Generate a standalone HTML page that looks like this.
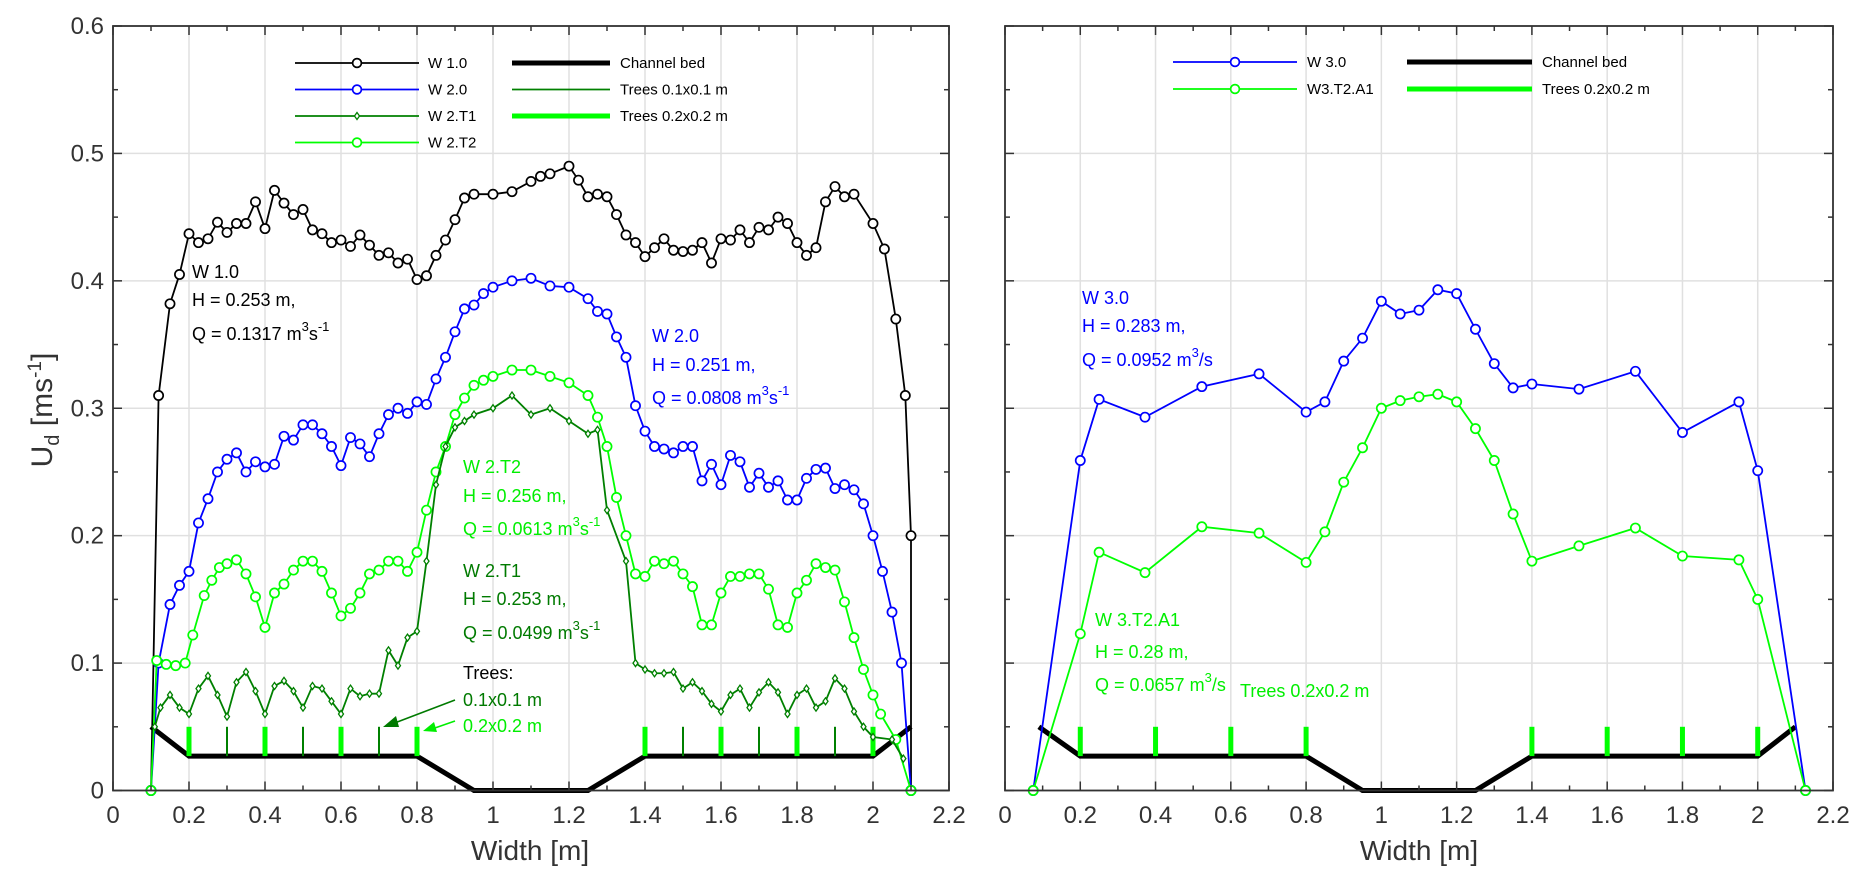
<!DOCTYPE html>
<html><head><meta charset="utf-8"><style>
body{margin:0;background:#fff}
svg{display:block;font-family:"Liberation Sans",Arial,sans-serif}
</style></head><body>
<svg id="chart" width="1870" height="886" viewBox="0 0 1870 886" xmlns="http://www.w3.org/2000/svg">
<g id="p1"></g>
<g id="p2"></g>
<text transform="translate(52,410) rotate(-90)" text-anchor="middle" font-size="30" fill="#333">U<tspan font-size="20" dy="7">d</tspan><tspan dy="-7"> [ms</tspan><tspan font-size="19" dy="-11">-1</tspan><tspan dy="11">]</tspan></text>
<text x="530" y="860" text-anchor="middle" font-size="28" fill="#333">Width  [m]</text>
<text x="1419" y="860" text-anchor="middle" font-size="28" fill="#333">Width  [m]</text>
</svg>
<script>
// ---- data: left panel ----
const w10x=[0.1,0.12,0.15,0.175,0.2,0.225,0.25,0.275,0.3,0.325,0.35,0.375,0.4,0.425,0.45,0.475,0.5,0.525,0.55,0.575,0.6,0.625,0.65,0.675,0.7,0.725,0.75,0.775,0.8,0.825,0.85,0.875,0.9,0.925,0.95,1.0,1.05,1.1,1.125,1.15,1.2,1.225,1.25,1.275,1.3,1.325,1.35,1.375,1.4,1.425,1.45,1.475,1.5,1.525,1.55,1.575,1.6,1.625,1.65,1.675,1.7,1.725,1.75,1.775,1.8,1.825,1.85,1.875,1.9,1.925,1.95,2.0,2.03,2.06,2.085,2.1,2.1];
const w10y=[0,0.31,0.382,0.405,0.437,0.43,0.433,0.446,0.438,0.445,0.445,0.462,0.441,0.471,0.461,0.452,0.456,0.44,0.437,0.43,0.432,0.427,0.436,0.428,0.42,0.422,0.414,0.417,0.401,0.404,0.42,0.432,0.448,0.465,0.468,0.468,0.47,0.478,0.482,0.484,0.49,0.479,0.466,0.468,0.466,0.452,0.436,0.43,0.419,0.426,0.433,0.424,0.423,0.424,0.43,0.414,0.433,0.432,0.44,0.43,0.442,0.44,0.45,0.445,0.43,0.42,0.426,0.462,0.474,0.466,0.468,0.445,0.425,0.37,0.31,0.2,0];
const w20x=[0.1,0.12,0.15,0.175,0.2,0.225,0.25,0.275,0.3,0.325,0.35,0.375,0.4,0.425,0.45,0.475,0.5,0.525,0.55,0.575,0.6,0.625,0.65,0.675,0.7,0.725,0.75,0.775,0.8,0.825,0.85,0.875,0.9,0.925,0.95,0.975,1.0,1.05,1.1,1.15,1.2,1.25,1.275,1.3,1.325,1.35,1.375,1.4,1.425,1.45,1.475,1.5,1.525,1.55,1.575,1.6,1.625,1.65,1.675,1.7,1.725,1.75,1.775,1.8,1.825,1.85,1.875,1.9,1.925,1.95,1.975,2.0,2.025,2.05,2.075,2.1];
const w20y=[0,0.1,0.146,0.161,0.172,0.21,0.229,0.25,0.26,0.265,0.25,0.258,0.254,0.256,0.278,0.275,0.287,0.287,0.28,0.27,0.255,0.277,0.272,0.262,0.28,0.295,0.3,0.296,0.305,0.303,0.323,0.34,0.36,0.378,0.381,0.39,0.395,0.4,0.402,0.396,0.395,0.386,0.376,0.374,0.356,0.34,0.302,0.282,0.27,0.268,0.265,0.27,0.27,0.243,0.256,0.24,0.263,0.258,0.238,0.249,0.238,0.243,0.228,0.228,0.245,0.252,0.253,0.237,0.24,0.236,0.225,0.2,0.172,0.14,0.1,0];
const wt2x=[0.1,0.115,0.14,0.165,0.19,0.21,0.24,0.26,0.28,0.3,0.325,0.35,0.375,0.4,0.425,0.45,0.475,0.5,0.525,0.55,0.575,0.6,0.625,0.65,0.675,0.7,0.725,0.75,0.775,0.8,0.825,0.85,0.875,0.9,0.925,0.95,0.975,1.0,1.05,1.1,1.15,1.2,1.25,1.275,1.3,1.325,1.35,1.375,1.4,1.425,1.45,1.475,1.5,1.525,1.55,1.575,1.6,1.625,1.65,1.675,1.7,1.725,1.75,1.775,1.8,1.825,1.85,1.875,1.9,1.925,1.95,1.975,2.0,2.02,2.06,2.1];
const wt2y=[0,0.102,0.099,0.098,0.1,0.122,0.153,0.165,0.175,0.178,0.181,0.17,0.152,0.128,0.155,0.162,0.173,0.18,0.18,0.172,0.155,0.137,0.143,0.155,0.17,0.173,0.18,0.18,0.172,0.187,0.22,0.25,0.27,0.295,0.308,0.318,0.322,0.325,0.33,0.33,0.325,0.32,0.31,0.293,0.27,0.23,0.2,0.17,0.168,0.18,0.178,0.18,0.17,0.16,0.13,0.13,0.155,0.168,0.168,0.17,0.17,0.158,0.13,0.128,0.155,0.165,0.178,0.175,0.173,0.148,0.12,0.095,0.075,0.06,0.04,0];
const wt1x=[0.11,0.125,0.15,0.175,0.2,0.225,0.25,0.275,0.3,0.325,0.35,0.375,0.4,0.425,0.45,0.475,0.5,0.525,0.55,0.575,0.6,0.625,0.65,0.675,0.7,0.725,0.75,0.775,0.8,0.825,0.85,0.875,0.9,0.925,0.95,1.0,1.05,1.1,1.15,1.2,1.25,1.275,1.3,1.35,1.375,1.4,1.425,1.45,1.475,1.5,1.525,1.55,1.575,1.6,1.625,1.65,1.675,1.7,1.725,1.75,1.775,1.8,1.825,1.85,1.875,1.9,1.925,1.95,1.975,2.0,2.05,2.08];
const wt1y=[0.05,0.065,0.075,0.065,0.06,0.08,0.09,0.075,0.058,0.085,0.093,0.078,0.06,0.082,0.086,0.078,0.065,0.082,0.08,0.07,0.06,0.08,0.074,0.076,0.076,0.11,0.098,0.12,0.125,0.18,0.24,0.27,0.285,0.29,0.295,0.3,0.31,0.295,0.3,0.29,0.28,0.283,0.22,0.18,0.1,0.095,0.092,0.092,0.093,0.08,0.085,0.078,0.068,0.062,0.075,0.08,0.065,0.077,0.085,0.077,0.06,0.075,0.08,0.065,0.07,0.088,0.08,0.062,0.05,0.042,0.04,0.025];
const bedX=[0.1,0.2,0.8,0.95,1.25,1.4,2.0,2.1];
const bedY=[0.05,0.027,0.027,0,0,0.027,0.027,0.05];
const bedRX=[0.09,0.2,0.8,0.95,1.25,1.4,2.0,2.1];
const treeSmallX=[0.3,0.5,0.7,1.5,1.7,1.9];
const treeLargeX=[0.2,0.4,0.6,0.8,1.4,1.6,1.8,2.0];
// ---- data: right panel ----
const w30x=[0.075,0.2,0.25,0.372,0.523,0.675,0.8,0.85,0.9,0.95,1.0,1.05,1.1,1.15,1.2,1.25,1.3,1.35,1.4,1.525,1.675,1.8,1.95,2.0,2.127];
const w30y=[0,0.259,0.307,0.293,0.317,0.327,0.297,0.305,0.337,0.355,0.384,0.374,0.377,0.393,0.39,0.362,0.335,0.316,0.319,0.315,0.329,0.281,0.305,0.251,0];
const w3ty=[0,0.123,0.187,0.171,0.207,0.202,0.179,0.203,0.242,0.269,0.3,0.306,0.309,0.311,0.305,0.284,0.259,0.217,0.18,0.192,0.206,0.184,0.181,0.15,0];
const xTicks=[0,0.2,0.4,0.6,0.8,1,1.2,1.4,1.6,1.8,2,2.2];
const xTickLabels=["0","0.2","0.4","0.6","0.8","1","1.2","1.4","1.6","1.8","2","2.2"];
const yTicks=[0,0.1,0.2,0.3,0.4,0.5,0.6];
const yTickLabels=["0","0.1","0.2","0.3","0.4","0.5","0.6"];

const NS="http://www.w3.org/2000/svg";
function mk(parent,tag,attrs){const e=document.createElementNS(NS,tag);for(const k in attrs)e.setAttribute(k,attrs[k]);parent.appendChild(e);return e;}
const Y0=790.5,Y1=26;
function makeAxes(g,x0,x1){
  const sx=v=>x0+(x1-x0)*v/2.2, sy=v=>Y0+(Y1-Y0)*v/0.6;
  xTicks.forEach(v=>{const l=mk(g,'line',{x1:sx(v),x2:sx(v),y1:Y0,y2:Y1,stroke:'#e0e0e0','stroke-width':1.5});
    });
  yTicks.forEach(v=>{const l=mk(g,'line',{x1:x0,x2:x1,y1:sy(v),y2:sy(v),stroke:'#e0e0e0','stroke-width':1.5});
    });
  return {sx,sy};
}
function frame(g,x0,x1,showY){
  const sx=v=>x0+(x1-x0)*v/2.2, sy=v=>Y0+(Y1-Y0)*v/0.6;
  for(let i=0;i<=22;i++){const v=i/10,L=i%2?5:9;
    mk(g,'line',{x1:sx(v),x2:sx(v),y1:Y0,y2:Y0-L,stroke:'#333','stroke-width':1.5});
    mk(g,'line',{x1:sx(v),x2:sx(v),y1:Y1,y2:Y1+L,stroke:'#333','stroke-width':1.5});}
  for(let i=0;i<=12;i++){const v=i/20,L=i%2?5:9;
    mk(g,'line',{x1:x0,x2:x0+L,y1:sy(v),y2:sy(v),stroke:'#333','stroke-width':1.5});
    mk(g,'line',{x1:x1,x2:x1-L,y1:sy(v),y2:sy(v),stroke:'#333','stroke-width':1.5});}
  const r=mk(g,'rect',{x:x0,y:Y1,width:x1-x0,height:Y0-Y1,fill:'none',stroke:'#333','stroke-width':1.8});
  
  xTicks.forEach((v,i)=>{const t=mk(g,'text',{x:sx(v),y:823,'text-anchor':'middle','font-size':24,fill:'#333'});t.textContent=xTickLabels[i];
    });
  if(showY)yTicks.forEach((v,i)=>{const t=mk(g,'text',{x:x0-9,y:sy(v)+8,'text-anchor':'end','font-size':24,fill:'#333'});t.textContent=yTickLabels[i];
    });
}
function series(g,sx,sy,xs,ys,color,marker,name,w){
  const s=mk(g,'g',{});
  
  
  mk(s,'polyline',{points:xs.map((x,i)=>sx(x)+','+sy(ys[i])).join(' '),fill:'none',stroke:color,'stroke-width':w||1.8});
  xs.forEach((x,i)=>{
    if(marker==='o')mk(s,'circle',{cx:sx(x),cy:sy(ys[i]),r:4.6,fill:'#fff',stroke:color,'stroke-width':1.7});
    else if(marker==='d'){const cx=sx(x),cy=sy(ys[i]);mk(s,'polygon',{points:`${cx},${cy-3.5} ${cx+2.5},${cy} ${cx},${cy+3.5} ${cx-2.5},${cy}`,fill:'#fff',stroke:color,'stroke-width':1.3});}
  });
}
function bed(g,sx,sy,xs){
  const p=mk(g,'polyline',{points:xs.map((x,i)=>sx(x)+','+sy(bedY[i])).join(' '),fill:'none',stroke:'#000','stroke-width':5});
  
}
function trees(g,sx,sy,xs,color,w,name){
  xs.forEach(x=>{const l=mk(g,'line',{x1:sx(x),x2:sx(x),y1:sy(0.027),y2:sy(0.05),stroke:color,'stroke-width':w});
    });
}
function txt(g,x,y,color,html,name,size){
  const t=mk(g,'text',{x:x,y:y,fill:color,'font-size':size||18});t.innerHTML=html;
  return t;
}
function legLine(g,x1,x2,y,color,w,marker){
  mk(g,'line',{x1:x1,x2:x2,y1:y,y2:y,stroke:color,'stroke-width':w});
  const m=(x1+x2)/2;
  if(marker==='o')mk(g,'circle',{cx:m,cy:y,r:4.4,fill:'#fff',stroke:color,'stroke-width':1.7});
  if(marker==='d')mk(g,'polygon',{points:`${m},${y-3.5} ${m+2.5},${y} ${m},${y+3.5} ${m-2.5},${y}`,fill:'#fff',stroke:color,'stroke-width':1.3});
}
// ---- left panel ----
const g1=document.getElementById('p1');
const A=makeAxes(g1,113,949);
bed(g1,A.sx,A.sy,bedX);
trees(g1,A.sx,A.sy,treeSmallX,'#008000',2,'tree-0.1');
trees(g1,A.sx,A.sy,treeLargeX,'#00ff00',5,'tree-0.2');
series(g1,A.sx,A.sy,w10x,w10y,'#000','o','series-w1-0');
series(g1,A.sx,A.sy,w20x,w20y,'#0000ff','o','series-w2-0');
series(g1,A.sx,A.sy,wt2x,wt2y,'#00ff00','o','series-w2-t2');
series(g1,A.sx,A.sy,wt1x,wt1y,'#008000','d','series-w2-t1');
frame(g1,113,949,true);
const sup=s=>`<tspan font-size="13" dy="-9">${s}</tspan>`;
txt(g1,192,278,'#000','W 1.0','annot-w1-name');
txt(g1,192,306,'#000','H = 0.253 m,','annot-w1-h');
txt(g1,192,340,'#000','Q = 0.1317 m'+sup('3')+'<tspan dy="9">s</tspan>'+sup('-1'),'annot-w1-q');
txt(g1,652,342,'#0000ff','W 2.0','annot-w2-name');
txt(g1,652,371,'#0000ff','H = 0.251 m,','annot-w2-h');
txt(g1,652,404,'#0000ff','Q = 0.0808 m'+sup('3')+'<tspan dy="9">s</tspan>'+sup('-1'),'annot-w2-q');
txt(g1,463,473,'#00ee00','W 2.T2','annot-wt2-name');
txt(g1,463,502,'#00ee00','H = 0.256 m,','annot-wt2-h');
txt(g1,463,535,'#00ee00','Q = 0.0613 m'+sup('3')+'<tspan dy="9">s</tspan>'+sup('-1'),'annot-wt2-q');
txt(g1,463,577,'#007a00','W 2.T1','annot-wt1-name');
txt(g1,463,605,'#007a00','H = 0.253 m,','annot-wt1-h');
txt(g1,463,639,'#007a00','Q = 0.0499 m'+sup('3')+'<tspan dy="9">s</tspan>'+sup('-1'),'annot-wt1-q');
txt(g1,463,679,'#000','Trees:','annot-trees');
txt(g1,463,706,'#007a00','0.1x0.1 m','annot-trees-small');
txt(g1,463,732,'#00ee00','0.2x0.2 m','annot-trees-large');
mk(g1,'line',{x1:455,y1:700,x2:392,y2:724,stroke:'#007a00','stroke-width':1.6});
mk(g1,'polygon',{points:'383,727 396,716 399,727',fill:'#007a00'});
mk(g1,'line',{x1:455,y1:721,x2:432,y2:729,stroke:'#00ee00','stroke-width':1.6});
mk(g1,'polygon',{points:'423,731 434,722 437,732',fill:'#00ee00'});
const L1=mk(g1,'g',{});
[['W 1.0','#000','o',1.8],['W 2.0','#0000ff','o',1.8],['W 2.T1','#008000','d',1.8],['W 2.T2','#00ff00','o',1.8]].forEach((r,i)=>{
  const y=63+i*26.5;legLine(L1,295,419,y,r[1],r[3],r[2]);txt(L1,428,y+5,'#000',r[0],'legend-entry',15);});
[['Channel bed','#000',5],['Trees 0.1x0.1 m','#008000',1.8],['Trees 0.2x0.2 m','#00ff00',5]].forEach((r,i)=>{
  const y=63+i*26.5;legLine(L1,512,610,y,r[1],r[2]);txt(L1,620,y+5,'#000',r[0],'legend-entry',15);});
// ---- right panel ----
const g2=document.getElementById('p2');
const B=makeAxes(g2,1005,1833);
bed(g2,B.sx,B.sy,bedRX);
trees(g2,B.sx,B.sy,treeLargeX,'#00ff00',5,'tree-0.2');
series(g2,B.sx,B.sy,w30x,w30y,'#0000ff','o','series-w3-0');
series(g2,B.sx,B.sy,w30x,w3ty,'#00ff00','o','series-w3-t2-a1');
frame(g2,1005,1833,false);
txt(g2,1082,304,'#0000ff','W 3.0','annot-w3-name');
txt(g2,1082,332,'#0000ff','H = 0.283 m,','annot-w3-h');
txt(g2,1082,366,'#0000ff','Q = 0.0952 m'+sup('3')+'<tspan dy="9">/s</tspan>','annot-w3-q');
txt(g2,1095,626,'#00ee00','W 3.T2.A1','annot-w3t-name');
txt(g2,1095,658,'#00ee00','H = 0.28 m,','annot-w3t-h');
txt(g2,1095,691,'#00ee00','Q = 0.0657 m'+sup('3')+'<tspan dy="9">/s</tspan>','annot-w3t-q');
txt(g2,1240,697,'#00ee00','Trees 0.2x0.2 m','annot-trees-right');
const L2=mk(g2,'g',{});
[['W 3.0','#0000ff','o'],['W3.T2.A1','#00ff00','o']].forEach((r,i)=>{
  const y=62+i*27;legLine(L2,1173,1297,y,r[1],1.8,r[2]);txt(L2,1307,y+5,'#000',r[0],'legend-entry',15);});
[['Channel bed','#000',5],['Trees 0.2x0.2 m','#00ff00',5]].forEach((r,i)=>{
  const y=62+i*27;legLine(L2,1407,1532,y,r[1],r[2]);txt(L2,1542,y+5,'#000',r[0],'legend-entry',15);});
</script>
</body></html>
